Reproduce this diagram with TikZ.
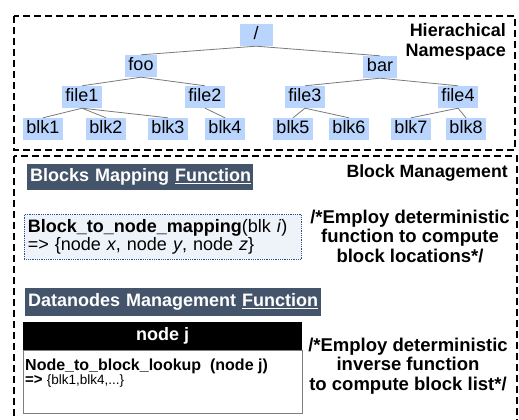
\documentclass[tikz,border=0pt]{standalone}
\usepackage{fontspec}
\setmainfont{Liberation Sans}
\definecolor{treeblue}{HTML}{B9D5FD}
\definecolor{edgegray}{HTML}{7A7A7A}
\definecolor{hdrblue}{HTML}{44546A}
\definecolor{mapfill}{HTML}{EEF3FA}
\definecolor{mapborder}{HTML}{2F4F8F}
\definecolor{boxgray}{HTML}{7F7F7F}
\newcommand{\fsz}[2]{\fontsize{#1}{#2}\selectfont}
\begin{document}
\begin{tikzpicture}[x=1pt,y=-1pt,
  tn/.style={fill=treeblue, inner xsep=3.5pt, inner ysep=0pt, minimum height=22pt,
             font=\fsz{18}{20}, text height=12.9pt, text depth=3.8pt},
  tedge/.style={draw=edgegray, line width=0.8pt},
  frame/.style={draw=black, line width=2.4pt, dash pattern=on 7pt off 4pt},
  hdr/.style={fill=hdrblue, text=white, inner xsep=3pt, inner ysep=0pt,
              align=left, anchor=north west, font=\bfseries\fsz{18}{20}},
  cmt/.style={font=\bfseries\fsz{18.5}{19.5}, align=center, inner sep=0pt},
  lbl/.style={font=\bfseries\fsz{18}{20}, inner sep=0pt}]
\useasboundingbox (0,0) rectangle (519,420);

% namespace frame
\draw[frame] (14,16) rectangle (515,150);
% block management frame (runs past the lower edge)
\draw[frame] (14,156) rectangle (517,430);

% namespace tree
\node[tn, minimum width=33pt] (root) at (256,35) {/};
\node[tn] (foo) at (141,66) {foo};
\node[tn] (bar) at (380,67) {bar};
\node[tn] (file1) at (82,97) {file1};
\node[tn] (file2) at (205,97) {file2};
\node[tn] (file3) at (305,97) {file3};
\node[tn] (file4) at (458,97) {file4};
\node[tn] (blk1) at (43,129) {blk1};
\node[tn] (blk2) at (106,129) {blk2};
\node[tn] (blk3) at (168,129) {blk3};
\node[tn] (blk4) at (225,129) {blk4};
\node[tn] (blk5) at (293,129) {blk5};
\node[tn] (blk6) at (349,129) {blk6};
\node[tn] (blk7) at (411,129) {blk7};
\node[tn] (blk8) at (466,129) {blk8};

\foreach \p/\c in {root/foo, root/bar, foo/file1, foo/file2, bar/file3, bar/file4,
                   file1/blk1, file1/blk2, file1/blk3, file2/blk4,
                   file3/blk5, file3/blk6, file4/blk7, file4/blk8}
  \draw[tedge] (\p.south) -- (\c.north);

\node[lbl, anchor=east, align=right] (ns) at (506,42) {Hierachical\\Namespace};

% block management
\node[lbl, font=\bfseries\fsz{17.7}{20}, anchor=east] (bm) at (508,173) {Block Management};

\node[hdr, minimum width=226pt, minimum height=26pt,
      text width=220pt] (hdrA) at (27,164) {\mbox{Blocks Mapping~\underline{Function}}};

\node[fill=mapfill, draw=mapborder, densely dotted, line width=0.8pt,
      anchor=north west, minimum width=277pt, minimum height=45pt,
      text width=270pt, inner xsep=3.5pt, inner ysep=0pt, align=left,
      font=\fsz{18}{15}] (map) at (24,214)
  {\textbf{Block\_to\_node\_mapping}(blk \textit{i})\\
   => \{node \textit{x}, node \textit{y}, node \textit{z}\}};

\node[cmt] (c1) at (410,236) {/*Employ deterministic\\function to compute\\block locations*/};

\node[hdr, minimum width=296pt, minimum height=28pt,
      text width=290pt] (hdrB) at (25,288) {\mbox{Datanodes Management \underline{Function}}};

\node[fill=black, text=white, font=\bfseries\fsz{18}{20}, anchor=north west,
      minimum width=279pt, minimum height=28pt, inner sep=0pt] (nodej) at (23,322) {node j};

\node[draw=boxgray, line width=0.8pt, anchor=north west, minimum width=279pt,
      minimum height=63pt, inner sep=0pt] (lookupbox) at (23,350) {};
\node[anchor=north west, align=left, inner sep=0pt, font=\fsz{16}{14}] (lookup) at (25,359)
  {\textbf{Node\_to\_block\_lookup\ \ (node j)}\\
   {\fsz{15}{14}\textbf{=>}\ \fsz{13.5}{14}\{blk1,blk4,...\}}};

\node[cmt] (c2) at (408,366) {/*Employ deterministic\\inverse function\\to compute block list*/};
\end{tikzpicture}
\end{document}
